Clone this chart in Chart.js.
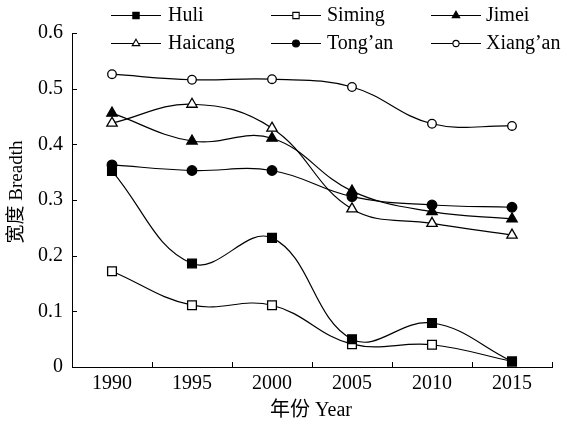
<!DOCTYPE html>
<html>
<head>
<meta charset="utf-8">
<script src="https://cdn.jsdelivr.net/npm/chart.js@4.4.1/dist/chart.umd.min.js"></script>
<style>
  html, body { margin: 0; padding: 0; background: #fff; }
  #wrap { width: 565px; height: 425px; position: relative; }
</style>
</head>
<body>
<div id="wrap"><canvas id="c" width="565" height="425"></canvas></div>
<script>
// Years on the horizontal axis
const years = ['1990', '1995', '2000', '2005', '2010', '2015'];

// Breadth index for each district
const huli    = [0.352, 0.186, 0.232, 0.050, 0.079, 0.010];
const siming  = [0.172, 0.111, 0.111, 0.041, 0.040, 0.010];
const jimei   = [0.456, 0.406, 0.411, 0.316, 0.279, 0.266];
const haicang = [0.438, 0.472, 0.429, 0.284, 0.258, 0.237];
const tongan  = [0.363, 0.353, 0.353, 0.306, 0.291, 0.287];
const xiangan = [0.526, 0.516, 0.517, 0.503, 0.437, 0.433];

// Vertical axis tick values
const yTicks = [0, 0.1, 0.2, 0.3, 0.4, 0.5, 0.6];

const FONT = '"Liberation Serif", "Times New Roman", "Noto Sans CJK SC", serif';

function series(label, data, style, filled, radius) {
  return {
    label, data,
    borderColor: '#000',
    borderWidth: 1.2,
    tension: 0.4,
    pointStyle: style,
    pointRadius: radius,
    pointHoverRadius: radius,
    pointBorderWidth: 1.3,
    pointBorderColor: '#000',
    pointBackgroundColor: filled ? '#000' : '#fff',
    fill: false,
    clip: false
  };
}

const datasets = [
  series('Huli', huli, 'rect', true, 6.2),
  series('Siming', siming, 'rect', false, 6.2),
  series('Jimei', jimei, 'triangle', true, 6),
  series('Haicang', haicang, 'triangle', false, 6),
  series('Tong\u2019an', tongan, 'circle', true, 4.8),
  series('Xiang\u2019an', xiangan, 'circle', false, 4.3)
];

// Marker drawing used by the legend
function marker(ctx, style, x, y, r, filled) {
  ctx.save();
  ctx.beginPath();
  if (style === 'rect') {
    const s = Math.SQRT1_2 * r;
    ctx.rect(x - s, y - s, 2 * s, 2 * s);
  } else if (style === 'triangle') {
    for (let k = 0; k < 3; k++) {
      const a = k * 2 * Math.PI / 3;
      const px = x + Math.sin(a) * r, py = y - Math.cos(a) * r;
      if (k === 0) ctx.moveTo(px, py); else ctx.lineTo(px, py);
    }
    ctx.closePath();
  } else {
    ctx.arc(x, y, r, 0, Math.PI * 2);
  }
  ctx.fillStyle = filled ? '#000' : '#fff';
  ctx.fill();
  ctx.lineWidth = 1.1;
  ctx.strokeStyle = '#000';
  ctx.stroke();
  ctx.restore();
}

// Two-row legend, inward axis ticks and axis titles
const decor = {
  id: 'decor',
  afterDraw(chart) {
    const ctx = chart.ctx;
    const area = chart.chartArea;
    const ys = chart.scales.y;

    ctx.save();
    ctx.strokeStyle = '#000';
    ctx.lineWidth = 1;
    // y ticks, pointing into the plot
    yTicks.forEach(v => {
      const py = Math.round(ys.getPixelForValue(v)) + 0.5;
      ctx.beginPath();
      ctx.moveTo(area.left, py);
      ctx.lineTo(area.left + 5, py);
      ctx.stroke();
    });
    // x ticks between categories, pointing up
    const n = years.length;
    for (let i = 1; i <= n; i++) {
      const px = Math.round(area.left + (area.right - area.left) * i / n) + 0.5;
      ctx.beginPath();
      ctx.moveTo(px, area.bottom);
      ctx.lineTo(px, area.bottom - 5);
      ctx.stroke();
    }

    // legend
    const cols = [[111, 168], [271, 327], [431, 486]];
    const rows = [15, 43];
    ctx.font = '20px ' + FONT;
    ctx.textBaseline = 'middle';
    ctx.textAlign = 'left';
    ctx.fillStyle = '#000';
    chart.data.datasets.forEach((ds, i) => {
      const c = cols[i % 3], y = rows[Math.floor(i / 3)];
      ctx.beginPath();
      ctx.lineWidth = 1.2;
      ctx.moveTo(c[0], y + 0.5);
      ctx.lineTo(c[0] + 50, y + 0.5);
      ctx.stroke();
      marker(ctx, ds.pointStyle, c[0] + 25, y + 0.5, ds.pointRadius * 0.72, ds.pointBackgroundColor === '#000');
      ctx.fillText(ds.label, c[1], y + 1);
    });

    // axis titles
    ctx.textAlign = 'center';
    ctx.font = '20px ' + FONT;
    ctx.fillText('年份 Year', 311, 411);
    ctx.font = '19px ' + FONT;
    ctx.translate(17, 192);
    ctx.rotate(-Math.PI / 2);
    ctx.fillText('宽度 Breadth', 0, 0);
    ctx.restore();
  }
};

function build() {
  new Chart(document.getElementById('c'), {
    type: 'line',
    data: { labels: years, datasets },
    options: {
      responsive: false,
      animation: false,
      devicePixelRatio: 1,
      layout: { padding: { left: 0, right: 13, top: 33, bottom: 0 } },
      plugins: { legend: { display: false }, tooltip: { enabled: false } },
      scales: {
        x: {
          type: 'category',
          offset: true,
          grid: { display: false, drawTicks: false },
          border: { display: true, color: '#000', width: 1 },
          ticks: { color: '#000', font: { family: FONT, size: 20 }, padding: 5, maxRotation: 0 },
          afterFit(s) { s.height = 58; }
        },
        y: {
          min: 0, max: 0.6,
          grid: { display: false, drawTicks: false },
          border: { display: true, color: '#000', width: 1 },
          afterBuildTicks(s) { s.ticks = yTicks.map(v => ({ value: v })); },
          ticks: {
            color: '#000', font: { family: FONT, size: 20 }, padding: 9,
            callback: v => (v === 0 ? '0' : v.toFixed(1))
          },
          afterFit(s) { s.width = 72; }
        }
      }
    },
    plugins: [decor]
  });
}

// Make sure the serif and CJK faces are ready before drawing text
Promise.all([
  document.fonts.load('20px "Liberation Serif"', 'Huli'),
  document.fonts.load('20px "Noto Sans CJK SC"', '宽度年份')
]).then(build, build);
</script>
</body>
</html>
